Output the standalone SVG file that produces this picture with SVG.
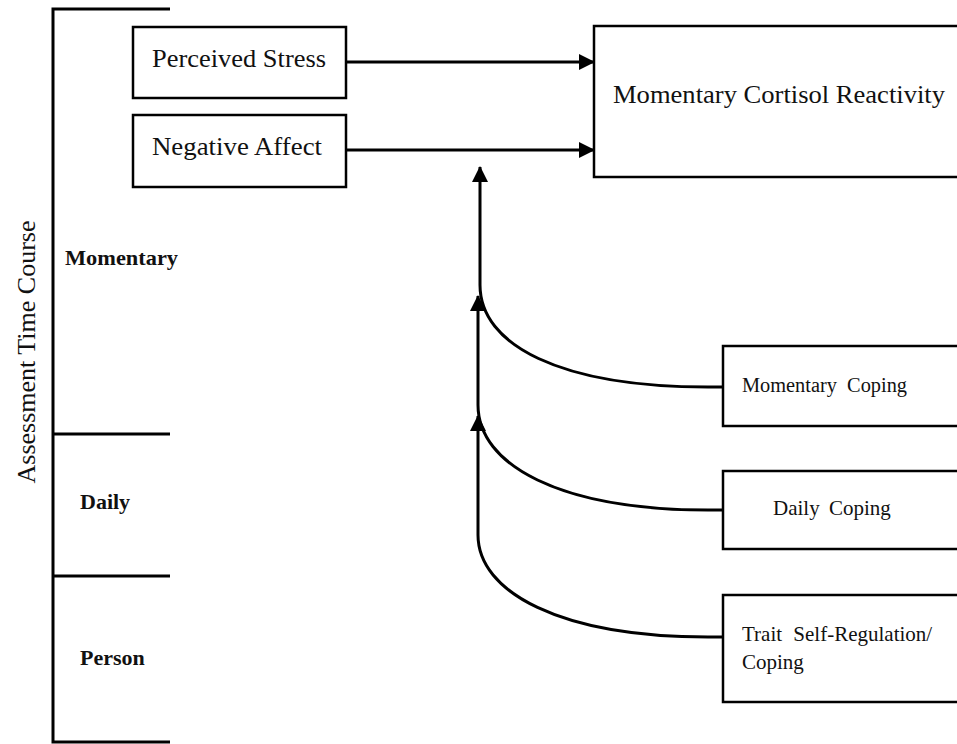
<svg xmlns="http://www.w3.org/2000/svg" width="957" height="744" viewBox="0 0 957 744">
<style>
.box{fill:#fff;stroke:#000;stroke-width:2.5}
.t{font-family:"Liberation Serif","Times New Roman",serif;fill:#111}
.lbl{font-family:"Liberation Serif","Times New Roman",serif;font-weight:bold;font-size:22px;fill:#111}
.ln{fill:none;stroke:#000;stroke-width:3}
</style>
<defs>
<marker id="ah" markerWidth="16" markerHeight="16" viewBox="0 0 16 16" refX="15" refY="8" orient="auto" markerUnits="userSpaceOnUse">
<path d="M0,0 L16,8 L0,16 Z" fill="#000"/>
</marker>
</defs>
<rect width="957" height="744" fill="#fff"/>
<g id="axis">
<path class="ln" d="M170,9 L53,9 L53,742 L170,742"/>
<path class="ln" d="M53,434 L170,434"/>
<path class="ln" d="M53,576 L170,576"/>
<text class="t" font-size="26" transform="translate(35,352) rotate(-90)" text-anchor="middle">Assessment Time Course</text>
<text class="lbl" x="65" y="265" textLength="113" lengthAdjust="spacingAndGlyphs">Momentary</text>
<text class="lbl" x="80" y="509">Daily</text>
<text class="lbl" x="80" y="665">Person</text>
</g>
<g id="perceived-stress">
<rect class="box" x="133" y="27" width="213" height="71"/>
<text class="t" font-size="26" x="152" y="67" textLength="174" lengthAdjust="spacingAndGlyphs">Perceived Stress</text>
</g>
<g id="negative-affect">
<rect class="box" x="133" y="115" width="213" height="72"/>
<text class="t" font-size="26" x="152" y="155" textLength="170" lengthAdjust="spacingAndGlyphs">Negative Affect</text>
</g>
<g id="cortisol">
<rect class="box" x="594" y="26" width="370" height="151"/>
<text class="t" font-size="26" x="613" y="103" textLength="332" lengthAdjust="spacingAndGlyphs">Momentary Cortisol Reactivity</text>
</g>
<g id="momentary-coping">
<rect class="box" x="723" y="346" width="240" height="80"/>
<text class="t" font-size="20" x="742" y="392" xml:space="preserve" textLength="165" lengthAdjust="spacingAndGlyphs">Momentary  Coping</text>
</g>
<g id="daily-coping">
<rect class="box" x="723" y="471" width="240" height="78"/>
<text class="t" font-size="21" x="773" y="515" word-spacing="4">Daily Coping</text>
</g>
<g id="trait-coping">
<rect class="box" x="723" y="595" width="240" height="107"/>
<text class="t" font-size="21" x="742" y="641" word-spacing="6">Trait Self-Regulation/</text>
<text class="t" font-size="21" x="742" y="669">Coping</text>
</g>
<g id="connectors">
<path class="ln" d="M346,62 L594,62" marker-end="url(#ah)"/>
<path class="ln" d="M346,150 L594,150" marker-end="url(#ah)"/>
<path class="ln" d="M723,387 L708,387 C560,387 480,345 480,285 L480,167" marker-end="url(#ah)"/>
<path class="ln" d="M723,510 L708,510 C560,510 478,465 478,405 L478,296" marker-end="url(#ah)"/>
<path class="ln" d="M723,637 L708,637 C560,637 478,592 478,535 L478,416" marker-end="url(#ah)"/>
</g>
</svg>
